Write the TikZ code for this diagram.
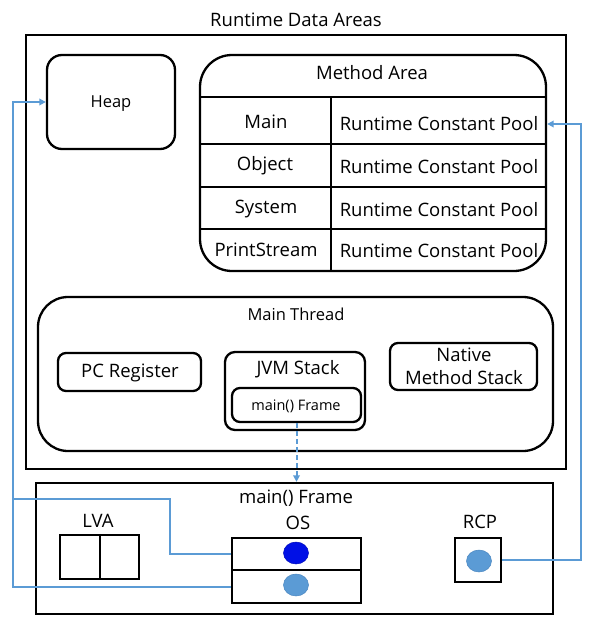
\documentclass[tikz,border=0pt]{standalone}
\usepackage{fontspec}
\setmainfont{Open Sans}
\usetikzlibrary{arrows.meta,shapes.geometric,calc}
\definecolor{lineblue}{HTML}{5B9BD5}
\definecolor{dotdark}{HTML}{0010E6}
\definecolor{dotedge}{HTML}{4A86C0}
\begin{document}
\begin{tikzpicture}[x=1pt,y=-1pt,
  box/.style={draw=black, line width=2.3pt, inner sep=0pt, fill=none},
  rbox/.style={box, rounded corners=#1},
  big/.style={font=\fontsize{18.5}{23}\selectfont, inner sep=0pt},
  mid/.style={font=\fontsize{16.5}{20}\selectfont, inner sep=0pt},
  small/.style={font=\fontsize{14.5}{18}\selectfont, inner sep=0pt},
  sep/.style={draw=black, line width=2.3pt},
  conn/.style={draw=lineblue, line width=2pt},
  tip/.style={-{Triangle[width=6.5pt,length=6.5pt]}},
  dotA/.style={ellipse, draw=dotdark!80!black, line width=0.5pt, fill=dotdark, minimum width=25, minimum height=22, inner sep=0pt},
  dotB/.style={ellipse, draw=dotedge, line width=0.5pt, fill=lineblue, minimum width=25, minimum height=22, inner sep=0pt}
]
\useasboundingbox (0,0) rectangle (597,629);

% Runtime data areas
\node[big] (title) at (296,20) {Runtime Data Areas};
\node[box, minimum width=540, minimum height=434] (rda) at (296,252) {};

% Heap
\node[rbox=15, minimum width=128, minimum height=94] (heap) at (111,102) {};
\node[mid] (heaptxt) at (111,104) {Heap};

% Method area
\node[rbox=32, minimum width=346, minimum height=216] (ma) at (373,163) {};
\node[big] (matxt) at (372,73) {Method Area};
\draw[sep] (200,97) -- (546,97);
\draw[sep] (200,144) -- (546,144);
\draw[sep] (200,187) -- (546,187);
\draw[sep] (200,229) -- (546,229);
\draw[sep] (331,97) -- (331,271);
\node[big] (c1) at (266,122) {Main};
\node[big] (c2) at (265,166) {Object};
\node[big] (c3) at (266,209) {System};
\node[big] (c4) at (266,250) {PrintStream};
\node[big] (p1) at (439,124) {Runtime Constant Pool};
\node[big] (p2) at (439,167) {Runtime Constant Pool};
\node[big] (p3) at (439,210) {Runtime Constant Pool};
\node[big] (p4) at (439,251) {Runtime Constant Pool};

% Main thread
\node[rbox=30, minimum width=515, minimum height=154] (mt) at (295.5,374) {};
\node[mid] (mttxt) at (296,314) {Main Thread};
\node[rbox=8, minimum width=143, minimum height=38] (pc) at (129.5,372) {};
\node[big] (pctxt) at (130,373) {PC Register};
\node[rbox=10, minimum width=140, minimum height=78] (jvm) at (295,391) {};
\node[big] (jvmtxt) at (298,369) {JVM Stack};
\node[rbox=8, minimum width=129, minimum height=34] (jf) at (296.5,405) {};
\node[small] (jftxt) at (296,406) {main() Frame};
\node[rbox=8, minimum width=147, minimum height=47] (nms) at (463.5,366.5) {};
\node[big, align=center] (nmstxt) at (464,366) {Native\\Method Stack};

% main() Frame
\node[box, minimum width=517, minimum height=131] (fr) at (294.5,548.5) {};
\node[big] (frtxt) at (296,498) {main() Frame};
\node[big] (lvatxt) at (98,521) {LVA};
\node[big] (ostxt) at (298,523) {OS};
\node[big] (rcptxt) at (480,522) {RCP};
\node[box, minimum width=79, minimum height=44] (lva) at (99.5,557) {};
\draw[sep] (lva.north) ++(0.5,0) -- ($(lva.south)+(0.5,0)$);
\node[box, minimum width=129, minimum height=32] (osTop) at (296.5,554) {};
\node[box, minimum width=129, minimum height=33] (osBot) at (296.5,586.5) {};
\node[box, minimum width=46, minimum height=44] (rcp) at (478,560) {};
\node[dotA] (d1) at (296,553) {};
\node[dotB] (d2) at (296,585) {};
\node[dotB] (d3) at (479,561) {};

% connectors
\coordinate (busx) at (13,0);
\coordinate (bend) at (170,499);
\coordinate (rbx) at (581,0);
\draw[conn] (osTop.west) -| (bend) -- (bend -| busx);
\draw[conn, tip] (osBot.west) -- (osBot.west -| busx) |- (heap.west);
\draw[conn, tip] (rcp.east) -- (rcp.east -| rbx) |- (ma.east |- p1);
\draw[conn, tip, dash pattern=on 5pt off 3pt] (jf.south) -- (jf.south |- fr.north);
\end{tikzpicture}
\end{document}
